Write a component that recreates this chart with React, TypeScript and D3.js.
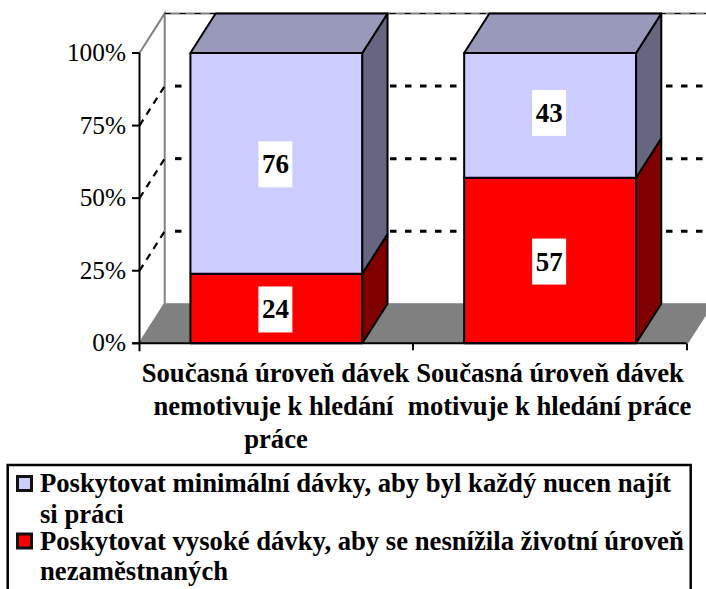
import React from "react";
import * as d3 from "d3";

const categories = [
  ["Současná úroveň dávek", "nemotivuje k hledání", "práce"],
  ["Současná úroveň dávek", "motivuje k hledání práce"],
];
const lowValues = [24, 57];
const highValues = [76, 43];
const ticks = [0, 25, 50, 75, 100];
const legendLines = [
  ["Poskytovat minimální dávky, aby byl každý nucen najít", "si práci"],
  ["Poskytovat vysoké dávky, aby se nesnížila životní úroveň", "nezaměstnaných"],
];

const font = "'Liberation Serif','Times New Roman',serif";
const y = d3.scaleLinear().domain([0, 100]).range([343.3, 53]);
const x = d3.scaleBand<number>().domain([0, 1]).range([139.5, 687]).paddingInner(0.372).paddingOuter(0.186);
const dx = 25.2, dy = -39.5;
const poly = (p: number[][]) => p.map((q) => q.join(",")).join(" ");
const catCentres = [[275.5, 273.5, 276], [550, 549.5]];
const gridRuns = [[175, 182], [390, 458], [666, 706]];

function Segment({ x0, x1, a, b, front, side, top, label, shift }: any) {
  const ya = y(a), yb = y(b);
  const cy = (ya + yb) / 2 + shift;
  return (
    <g stroke="#000" strokeWidth={2} strokeLinejoin="round">
      <rect x={x0} y={yb} width={x1 - x0} height={ya - yb} fill={front} />
      <polygon points={poly([[x1, ya], [x1 + dx, ya + dy], [x1 + dx, yb + dy], [x1, yb]])} fill={side} />
      {top && <polygon points={poly([[x0, yb], [x0 + dx, yb + dy], [x1 + dx, yb + dy], [x1, yb]])} fill={top} />}
      <rect x={(x0 + x1) / 2 - 18} y={cy - 23} width={34} height={46} fill="#fff" stroke="none" />
      <text x={(x0 + x1) / 2 - 1} y={cy + 9} textAnchor="middle" stroke="none" fill="#000" fontWeight="bold" fontSize={27}>{label}</text>
    </g>
  );
}

export default function App() {
  const left = 139.5, right = 687, base = y(0);
  return (
    <svg width={706} height={589} style={{ position: "absolute", left: 0, top: 0, fontFamily: font }}>
      <polygon points={poly([[left, base], [left + dx, base + dy], [right + dx, base + dy], [right, base]])} fill="#808080" stroke="#808080" />
      <polyline points={poly([[left, y(100)], [left + dx, y(100) + dy], [left + dx, base + dy], [left, base]])} fill="none" stroke="#808080" strokeWidth={2} />
      <line x1={left + dx} x2={706} y1={y(100) + dy} y2={y(100) + dy} stroke="#808080" strokeWidth={2} />
      <line x1={left + dx} x2={706} y1={y(100) + dy} y2={y(100) + dy} stroke="#000" strokeWidth={1} strokeDasharray="6 9" />
      {ticks.slice(1, 4).map((t) => (
        <g key={t} stroke="#000" strokeWidth={3} fill="none">
          {gridRuns.map(([a, b]) => (
            <line key={a} x1={a} x2={b} y1={y(t) + dy} y2={y(t) + dy} strokeDasharray="6.5 8.5" />
          ))}
          <line x1={left} y1={y(t)} x2={left + dx} y2={y(t) + dy} strokeDasharray="7 6" strokeWidth={2.2} />
        </g>
      ))}
      {categories.map((_, i) => {
        const x0 = x(i)!, x1 = x0 + x.bandwidth();
        return (
          <g key={i}>
            <Segment x0={x0} x1={x1} a={0} b={lowValues[i]} front="#ff0000" side="#800000" label={lowValues[i]} shift={1} />
            <Segment x0={x0} x1={x1} a={lowValues[i]} b={100} front="#ccccff" side="#666680" top="#9999bb" label={highValues[i]} shift={i === 0 ? 1 : -2.5} />
          </g>
        );
      })}
      <g stroke="#000" strokeWidth={2}>
        <line x1={left} x2={left} y1={y(100)} y2={base + 8} />
        <line x1={left - 7.5} x2={right} y1={base} y2={base} />
        {ticks.map((t) => <line key={t} x1={left - 7.5} x2={left} y1={y(t)} y2={y(t)} />)}
        {[413, right].map((v) => <line key={v} x1={v} x2={v} y1={base} y2={base + 7} />)}
        <line x1={right} y1={base} x2={right + dx} y2={base + dy} stroke="#808080" />
      </g>
      {ticks.map((t) => (
        <text key={t} x={126} y={y(t) + 8} textAnchor="end" fontSize={25.3} fill="#000">{t}%</text>
      ))}
      {categories.map((lines, i) => lines.map((s, j) => (
        <text key={j} x={catCentres[i][j]} y={381.7 + j * 33.3} textAnchor="middle" fontSize={26.67} fontWeight="bold" fill="#000">{s}</text>
      )))}
      <rect x={7.7} y={465} width={683} height={140} fill="#fff" stroke="#000" strokeWidth={2.5} />
      {legendLines.map((lines, i) => (
        <g key={i}>
          <rect x={17.5} y={476.5 + i * 57.5} width={14} height={14} fill={i === 0 ? "#ccccff" : "#ff0000"} stroke="#111" strokeWidth={3} />
          {lines.map((s, j) => (
            <text key={j} x={40} y={492 + i * 57.5 + j * 30.75} fontSize={26.67} fontWeight="bold" fill="#000">{s}</text>
          ))}
        </g>
      ))}
    </svg>
  );
}
